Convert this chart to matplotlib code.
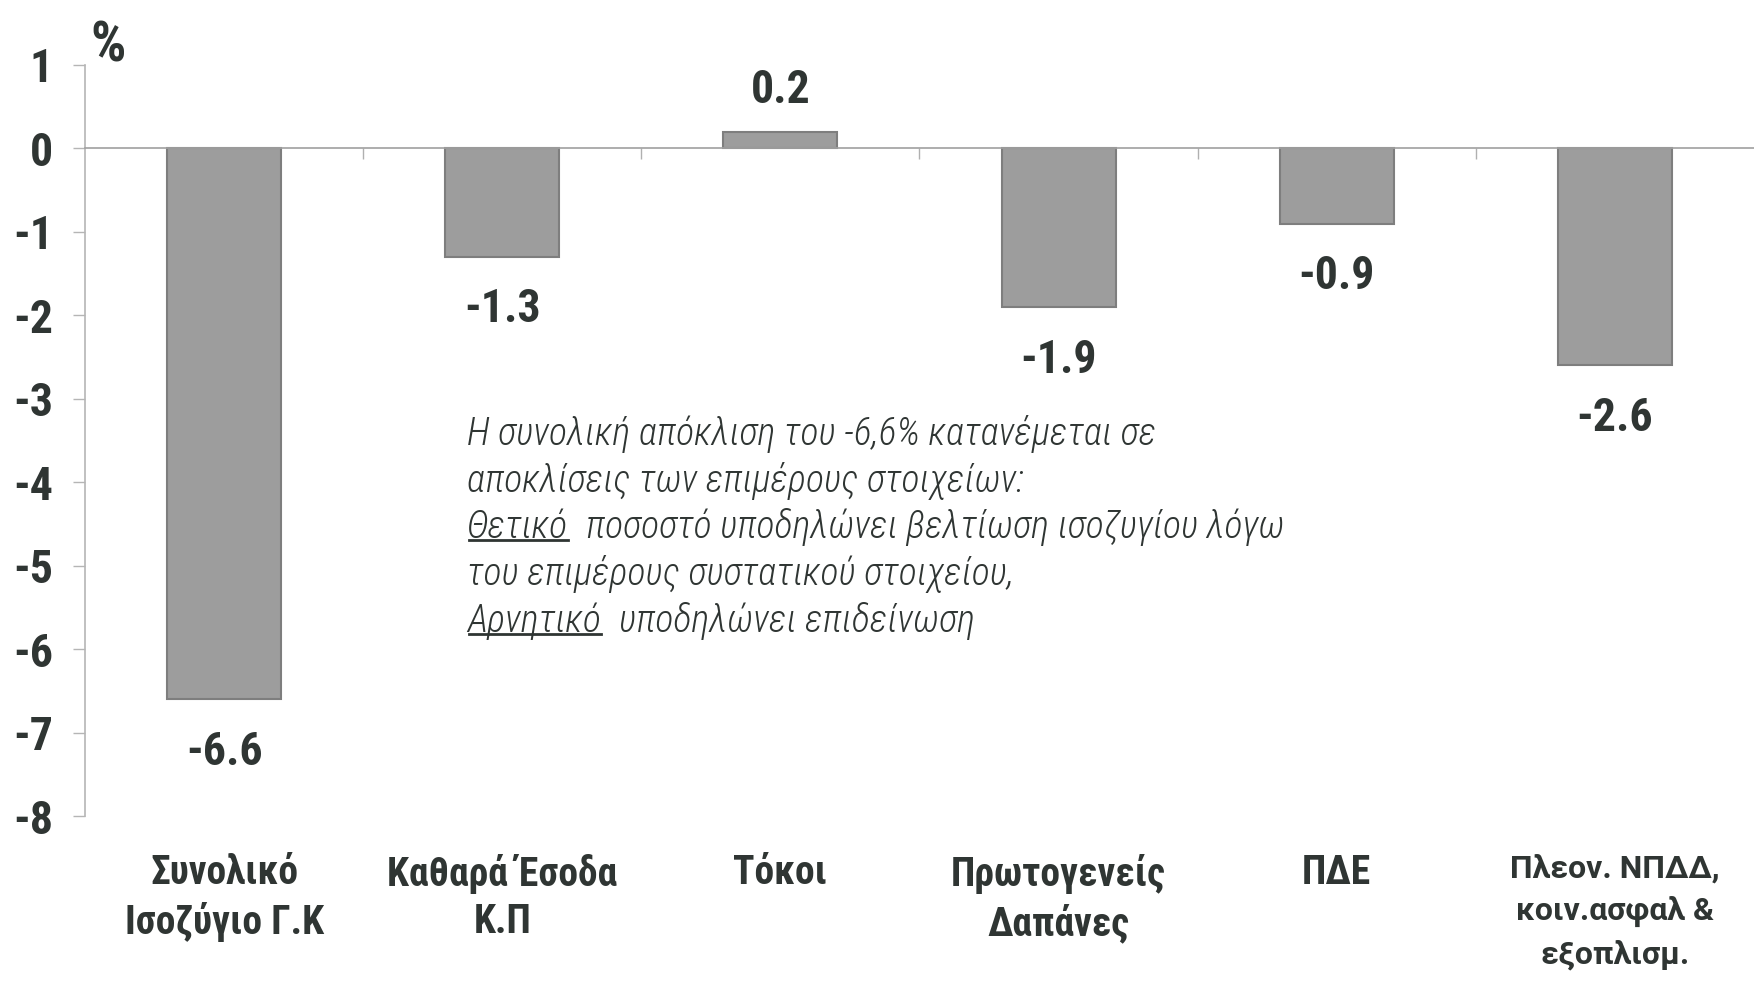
import numpy as np
import matplotlib
matplotlib.use("Agg")
import matplotlib.pyplot as plt
from matplotlib import transforms, font_manager

# data
categories = ['Συνολικό\nΙσοζύγιο Γ.Κ', 'Καθαρά Έσοδα\nΚ.Π', 'Τόκοι',
              'Πρωτογενείς\nΔαπάνες', 'ΠΔΕ', 'Πλεον. ΝΠΔΔ,\nκοιν.ασφαλ &\nεξοπλισμ.']
values = [-6.6, -1.3, 0.2, -1.9, -0.9, -2.6]
yticks = [1, 0, -1, -2, -3, -4, -5, -6, -7, -8]

note_lines = [
    [("Η συνολική απόκλιση του -6,6% κατανέμεται σε", False)],
    [("αποκλίσεις των επιμέρους στοιχείων:", False)],
    [("Θετικό", True), ("ποσοστό υποδηλώνει βελτίωση ισοζυγίου λόγω", False)],
    [("του επιμέρους συστατικού στοιχείου,", False)],
    [("Αρνητικό", True), ("υποδηλώνει επιδείνωση", False)],
]

# pick a condensed face if there is one
installed = {f.name for f in font_manager.fontManager.ttflist}
narrow = None
for cand in ['Liberation Sans Narrow', 'Arial Narrow', 'Roboto Condensed',
             'Noto Sans Condensed', 'Open Sans Condensed', 'DejaVu Sans Condensed']:
    if cand in installed:
        narrow = cand
        break
if narrow is None:
    narrow = 'Liberation Sans'
    scale = 0.9
else:
    scale = 1.0
NARROW = [narrow, 'DejaVu Sans']
TXT = '#2f3533'

fig = plt.figure(figsize=(17.54, 9.83), dpi=100)
W, H = 1754, 983
ax = fig.add_axes([85 / W, 1 - 816 / H, 1 - 85 / W, (816 - 65) / H])

x = np.arange(len(categories))
ax.bar(x, values, width=0.41, color='#9d9d9d', edgecolor='#7e7e7e',
       linewidth=1.5, zorder=2)
ax.set_xlim(-0.5, len(categories) - 0.5)
ax.set_ylim(-8, 1)

for s in ['top', 'right']:
    ax.spines[s].set_visible(False)
ax.spines['bottom'].set_position(('data', 0))
ax.spines['bottom'].set_color('#a0a0a0')
ax.spines['bottom'].set_linewidth(1.2)
ax.spines['left'].set_color('#b5b5b5')
ax.spines['left'].set_linewidth(1.2)

ax.set_xticks(np.arange(0.5, len(categories) - 0.5, 1))
ax.set_xticklabels([])
ax.tick_params(axis='x', direction='out', length=8, color='#b0b0b0', width=1)

ax.set_yticks(yticks)
ax.set_yticklabels([str(v) for v in yticks], fontsize=33 * scale,
                   fontweight='bold', family=NARROW, color=TXT)
ax.tick_params(axis='y', direction='out', length=9, color='#b5b5b5', width=1,
               pad=14)

# value labels
for xi, v in zip(x, values):
    off = 14 if v > 0 else -22
    ax.annotate(f'{v:.1f}', (xi, v), xytext=(0, off), textcoords='offset points',
                ha='center', va='bottom' if v > 0 else 'top', fontsize=33 * scale,
                fontweight='bold', family=NARROW, color=TXT)

# category labels
trans = transforms.blended_transform_factory(ax.transData, fig.transFigure)
for i, lab in enumerate(categories):
    last = i == len(categories) - 1
    fam = ['Roboto', 'DejaVu Sans'] if last else NARROW
    fs = 23 if last else 28.5 * scale
    fig.text(i, 1 - 854 / H, lab, transform=trans, ha='center', va='top',
             fontsize=fs, fontweight='bold', family=fam, color=TXT,
             linespacing=1.3 if not last else 1.5)

# percent label
fig.text(90 / W, 1 - 20 / H, '%', ha='left', va='top', fontsize=40 * scale,
         fontweight='bold', family=NARROW, color=TXT)

# note text with underlined words
fig.canvas.draw()
renderer = fig.canvas.get_renderer()
inv = fig.transFigure.inverted()
x0 = 467 / W
y_start = 1 - 434 / H
dy = 46.7 / H
for li, parts in enumerate(note_lines):
    y = y_start - li * dy
    cx = x0
    for txt, underline in parts:
        t = fig.text(cx, y, txt, ha='left', va='center', fontsize=27.3 * scale,
                     style='italic', fontweight='light', family=NARROW, color=TXT)
        bb = t.get_window_extent(renderer)
        (bx0, by0), (bx1, by1) = inv.transform([(bb.x0, bb.y0), (bb.x1, bb.y1)])
        if underline:
            fig.add_artist(plt.Line2D([bx0 + 0.001, bx1], [by0 + 0.006, by0 + 0.006],
                                      transform=fig.transFigure, color=TXT, lw=2))
        cx = bx1 + 18 / W

fig.savefig('out.png', dpi=100, facecolor='white')
